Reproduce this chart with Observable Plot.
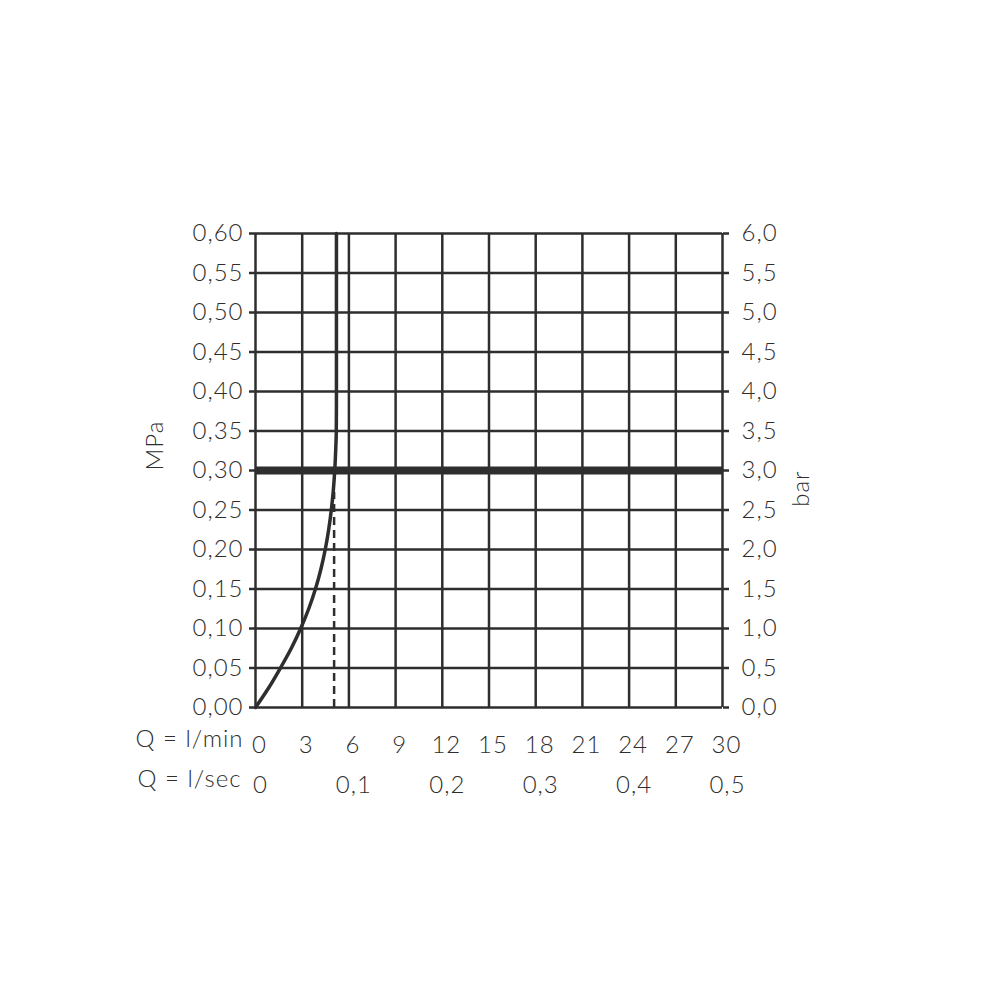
<!DOCTYPE html>
<html>
<head>
<meta charset="utf-8">
<script src="https://cdn.jsdelivr.net/npm/d3@7"></script>
<script src="https://cdn.jsdelivr.net/npm/@observablehq/plot@0.6"></script>
<style>
  html, body { margin: 0; padding: 0; background: #fff; }
  #chart svg { display: block; }
  #chart svg text { font-weight: 300; letter-spacing: 1px; }
</style>
</head>
<body>
<div id="chart"></div>
<script>
// Flow rate grid (l/min) and the matching l/sec labels
const flowLpm = [0, 3, 6, 9, 12, 15, 18, 21, 24, 27, 30];
const flowLpsAt = [0, 6, 12, 18, 24, 30];
const flowLpsLabels = ["0", "0,1", "0,2", "0,3", "0,4", "0,5"];

// Pressure grid (MPa); right axis shows the same in bar
const pressureMPa = [0, 0.05, 0.1, 0.15, 0.2, 0.25, 0.3, 0.35, 0.4, 0.45, 0.5, 0.55, 0.6];

// Flow characteristic: flow (l/min) vs pressure (MPa)
const curveFlow = [0, 0.85, 1.6, 2.3, 2.9, 3.42, 3.85, 4.2, 4.48, 4.7, 4.87, 5.0, 5.09, 5.15, 5.19, 5.2, 5.2];
const curvePressure = [0, 0.025, 0.05, 0.075, 0.1, 0.125, 0.15, 0.175, 0.2, 0.225, 0.25, 0.275, 0.3, 0.325, 0.35, 0.4, 0.6];

// Flow at the recommended pressure (dashed marker)
const markerFlow = 5.05;
const markerTop = 0.272;

// Recommended operating pressure (MPa)
const operatingPressure = 0.3;

const ink = "#2e2e2e";
const fontFamily = "Lato, 'Open Sans', sans-serif";
const comma = v => String(v).replace(".", ",");

const curve = curveFlow.map((q, i) => ({q, p: curvePressure[i]}));

const chart = Plot.plot({
  width: 1000,
  height: 1000,
  marginLeft: 255,
  marginRight: 278,
  marginTop: 233,
  marginBottom: 293,
  style: {fontFamily, fontSize: "24px", color: ink, background: "#fff"},
  x: {domain: [0, 30]},
  y: {domain: [0, 0.6]},
  marks: [
    // grid
    Plot.ruleX(flowLpm, {stroke: ink, strokeWidth: 2.5}),
    Plot.ruleY(pressureMPa, {stroke: ink, strokeWidth: 2.5}),
    // operating pressure band
    Plot.ruleY([operatingPressure], {x1: 0, x2: 30, stroke: ink, strokeWidth: 8}),
    // dashed flow marker
    Plot.ruleX([markerFlow], {y1: 0, y2: markerTop, stroke: ink, strokeWidth: 2.5, strokeDasharray: "8,5"}),
    // flow curve
    Plot.line(curve, {x: "q", y: "p", curve: "monotone-y", stroke: ink, strokeWidth: 3.5}),
    // axes
    Plot.axisY(pressureMPa, {
      anchor: "left", tickSize: 6, tickPadding: 6, strokeWidth: 2.5, stroke: ink,
      tickFormat: d => d.toFixed(2).replace(".", ","), label: null, fill: ink
    }),
    Plot.axisY(pressureMPa, {
      anchor: "right", tickSize: 6, tickPadding: 13, strokeWidth: 2.5, stroke: ink,
      tickFormat: d => (d * 10).toFixed(1).replace(".", ","), label: null, fill: ink
    }),
    Plot.axisX(flowLpm, {
      anchor: "bottom", tickSize: 0, tickPadding: 28, dx: 4,
      tickFormat: d => comma(d), label: null, fill: ink
    }),
    Plot.axisX(flowLpsAt, {
      anchor: "bottom", tickSize: 0, tickPadding: 68, dx: 5,
      tickFormat: (d, i) => flowLpsLabels[i], label: null, fill: ink
    }),
    // row captions
    Plot.text(["Q = l/min"], {x: 0, frameAnchor: "bottom", textAnchor: "end", dx: -12, dy: 39, fill: ink}),
    Plot.text(["Q = l/sec"], {x: 0, frameAnchor: "bottom", textAnchor: "end", dx: -14, dy: 79, fill: ink}),
    // axis titles
    Plot.text(["MPa"], {frameAnchor: "left", dx: -100, rotate: -90, fill: ink}),
    Plot.text(["bar"], {frameAnchor: "right", dx: 79, rotate: -90, fill: ink})
  ]
});

document.getElementById("chart").appendChild(chart);
</script>
</body>
</html>
